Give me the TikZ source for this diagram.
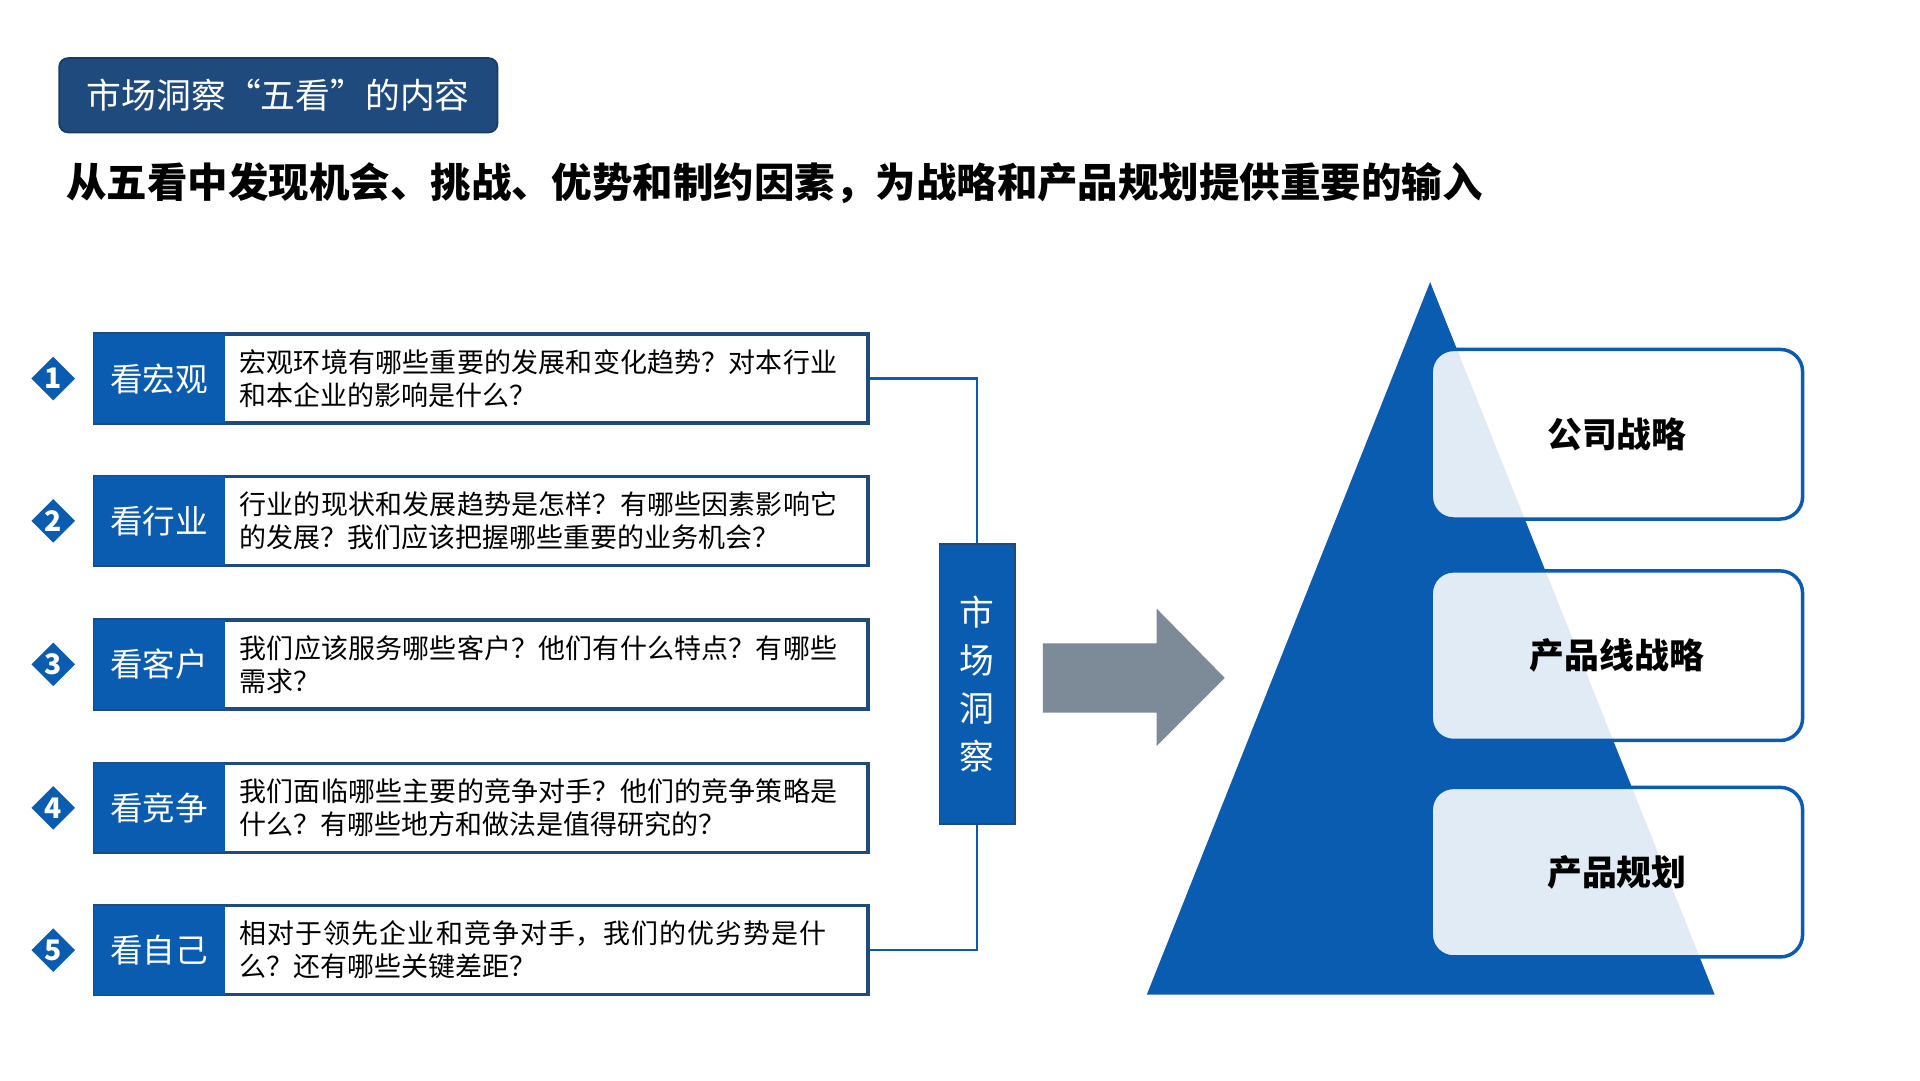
\documentclass[tikz,border=0pt]{standalone}
\usepackage{fontspec}
\setmainfont{Noto Sans CJK SC}
\XeTeXlinebreaklocale "zh"
\XeTeXlinebreakskip=0pt plus 1pt
\usetikzlibrary{positioning,shapes.geometric}
\definecolor{navy}{HTML}{1F4A7E}
\definecolor{mblue}{HTML}{0A5CB0}
\definecolor{agray}{HTML}{7D8B99}
\begin{document}
\begin{tikzpicture}[x=0.01cm, y=-0.01cm,
  rowbox/.style={draw=navy, line width=0.8pt, fill=white, minimum width=6.25cm, minimum height=0.72cm, anchor=west, inner sep=0pt},
  tag/.style={fill=mblue, text=white, minimum width=1.06cm, minimum height=0.72cm, anchor=west, inner sep=0pt, font=\fontsize{7.5}{9}\selectfont},
  ask/.style={anchor=west, text width=4.85cm, align=left, inner sep=0pt, font=\fontsize{6.2}{7.6}\selectfont},
  num/.style={diamond, fill=mblue, draw=white, line width=1pt, minimum size=0.42cm, inner sep=0pt, text=white, font=\bfseries\fontsize{6.5}{8}\selectfont},
  plan/.style={draw=mblue, line width=0.8pt, fill=white, fill opacity=0.88, text opacity=1, rounded corners=0.18cm, minimum width=3cm, minimum height=1.37cm, font=\bfseries\fontsize{8}{10}\selectfont},
  link/.style={draw=mblue, line width=0.5pt}]
\useasboundingbox (0,0) rectangle (1552,873);

\node[fill=navy, draw=navy!80!black, rounded corners=2pt, minimum width=3.54cm, minimum height=0.6cm, text=white, font=\fontsize{8}{10}\selectfont] (title) at (225,77) {市场洞察“五看”的内容};
\node[anchor=west, inner sep=0pt, font=\bfseries\fontsize{9.3}{11}\selectfont] (sub) at (53,148) {从五看中发现机会、挑战、优势和制约因素，为战略和产品规划提供重要的输入};

% five rows
\foreach \i/\y/\lab/\txt in {
  1/306/看宏观/{宏观环境有哪些重要的发展和变化趋势？对本行业和本企业的影响是什么？},
  2/421/看行业/{行业的现状和发展趋势是怎样？有哪些因素影响它的发展？我们应该把握哪些重要的业务机会？},
  3/537/看客户/{我们应该服务哪些客户？他们有什么特点？有哪些需求？},
  4/653/看竞争/{我们面临哪些主要的竞争对手？他们的竞争策略是什么？有哪些地方和做法是值得研究的？},
  5/768/看自己/{相对于领先企业和竞争对手，我们的优劣势是什么？还有哪些关键差距？}}{
  \node[rowbox] (row\i) at (75,\y) {};
  \node[tag] (tag\i) at (75,\y) {\lab};
  \node[ask] (ask\i) at (193,\y) {\txt};
  \node[num] (num\i) at (43,\y) {\i};
}

% market insight
\node[fill=mblue, draw=navy, minimum width=0.61cm, minimum height=2.26cm, inner sep=0pt, text=white, align=center, font=\fontsize{8}{11}\selectfont] (mi) at (790,553) {市\\场\\洞\\察};
\coordinate (c1) at (790,306);
\coordinate (c5) at (790,768);
\draw[link] (row1.east) -- (c1) -- (mi.north);
\draw[link] (mi.south) -- (c5) -- (row5.east);

% arrow
\fill[agray] (843,520) -- (935,520) -- (935,492) -- (990,548) -- (935,603) -- (935,576) -- (843,576) -- cycle;

% pyramid
\fill[mblue] (1156,228) -- (1386,804) -- (927,804) -- cycle;
\node[plan] (p1) at (1307,351) {公司战略};
\node[plan] (p2) at (1307,530) {产品线战略};
\node[plan] (p3) at (1307,705) {产品规划};
\end{tikzpicture}
\end{document}
